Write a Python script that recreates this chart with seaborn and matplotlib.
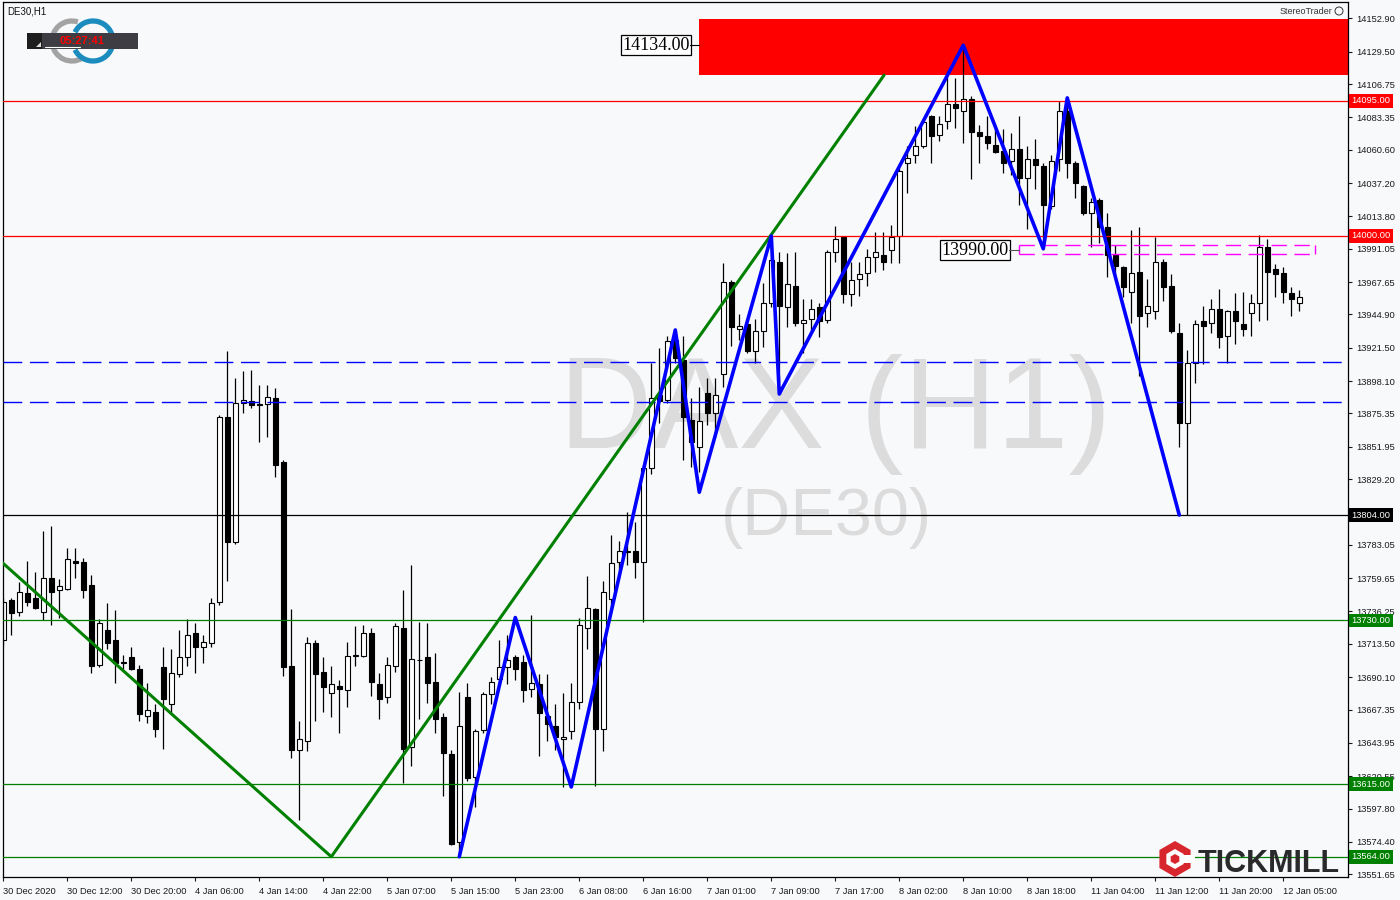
import numpy as np
import matplotlib.pyplot as plt
import seaborn as sns
from matplotlib.patches import Rectangle, Arc, RegularPolygon, Polygon, Circle

sns.set_theme(style='white')
plt.rcParams['font.family'] = ['Liberation Sans', 'DejaVu Sans']

# ---- DE30 H1 candles (O, H, L, C) ----
opens = [13716, 13744, 13736, 13749, 13746, 13736, 13760, 13751, 13752, 13772,
         13771, 13755, 13699, 13723, 13716, 13701, 13704, 13696, 13663, 13666,
         13697, 13671, 13692, 13704, 13721, 13711, 13714, 13743, 13873, 13785,
         13883, 13884, 13882, 13882, 13886, 13841, 13698, 13639, 13645, 13714,
         13694, 13679, 13684, 13681, 13705, 13705, 13721, 13685, 13676, 13698,
         13725, 13641, 13702, 13704, 13687, 13662, 13636, 13574, 13676, 13620,
         13653, 13678, 13689, 13697, 13704, 13701, 13682, 13685, 13663, 13656,
         13647, 13652, 13673, 13725, 13738, 13654, 13745, 13771, 13778, 13779,
         13771, 13837, 13888, 13885, 13927, 13913, 13871, 13852, 13890, 13876,
         13903, 13968, 13935, 13938, 13919, 13933, 13953, 13982, 13950, 13965,
         13939, 13942, 13950, 13941, 13989, 13999, 13959, 13970, 13974, 13985,
         13987, 13990, 14000, 14051, 14057, 14063, 14084, 14071, 14081, 14093,
         14088, 14096, 14073, 14070, 14064, 14060, 14053, 14061, 14041, 14054,
         14049, 14021, 14054, 14088, 14051, 14035, 14016, 14025, 14006, 13987,
         13978, 13961, 13975, 13946, 13947, 13982, 13965, 13932, 13869, 13911,
         13940, 13939, 13949, 13930, 13947, 13938, 13946, 13953, 13992, 13977,
         13974, 13960, 13953]
highs = [13746, 13746, 13757, 13772, 13764, 13793, 13796, 13759, 13781, 13781,
         13774, 13762, 13731, 13742, 13737, 13706, 13711, 13699, 13686, 13671,
         13711, 13710, 13723, 13731, 13728, 13720, 13746, 13874, 13919, 13900,
         13905, 13906, 13895, 13895, 13893, 13843, 13738, 13659, 13718, 13716,
         13704, 13698, 13688, 13715, 13726, 13727, 13725, 13693, 13704, 13728,
         13751, 13769, 13729, 13728, 13707, 13665, 13639, 13680, 13686, 13654,
         13680, 13690, 13716, 13720, 13706, 13706, 13734, 13692, 13692, 13671,
         13679, 13686, 13732, 13761, 13739, 13758, 13790, 13786, 13806, 13799,
         13839, 13911, 13921, 13930, 13932, 13930, 13886, 13894, 13900, 13900,
         13981, 13969, 13945, 13942, 13942, 13967, 14001, 13989, 13988, 13989,
         13956, 13956, 13953, 13990, 14007, 14000, 13982, 13982, 13991, 14003,
         14003, 14008, 14048, 14063, 14077, 14081, 14085, 14084, 14116, 14111,
         14134, 14098, 14078, 14084, 14077, 14075, 14072, 14084, 14063, 14068,
         14051, 14057, 14095, 14097, 14053, 14036, 14027, 14027, 14016, 13994,
         13979, 14004, 14006, 13970, 13999, 13984, 13973, 13939, 13920, 13941,
         13951, 13956, 13963, 13948, 13960, 13961, 13959, 14001, 13998, 13980,
         13978, 13964, 13962]
lows = [13713, 13720, 13733, 13740, 13738, 13730, 13727, 13732, 13751, 13760,
        13746, 13693, 13697, 13710, 13686, 13696, 13695, 13659, 13658, 13648,
        13640, 13665, 13690, 13698, 13693, 13700, 13711, 13741, 13758, 13784,
        13876, 13879, 13855, 13859, 13831, 13691, 13633, 13590, 13638, 13659,
        13666, 13662, 13651, 13669, 13698, 13704, 13677, 13661, 13672, 13694,
        13616, 13628, 13661, 13672, 13651, 13607, 13572, 13564, 13617, 13599,
        13651, 13671, 13685, 13685, 13688, 13673, 13676, 13635, 13645, 13639,
        13613, 13647, 13668, 13710, 13614, 13638, 13739, 13765, 13769, 13760,
        13729, 13833, 13869, 13883, 13911, 13843, 13838, 13834, 13867, 13859,
        13894, 13923, 13927, 13918, 13911, 13922, 13950, 13897, 13936, 13937,
        13918, 13932, 13929, 13939, 13982, 13953, 13951, 13958, 13965, 13975,
        13976, 13981, 13981, 14030, 14051, 14062, 14051, 14067, 14075, 14076,
        14065, 14040, 14051, 14061, 14058, 14044, 14043, 14022, 14005, 14033,
        13992, 14019, 14046, 14041, 14027, 14015, 13992, 13995, 13971, 13971,
        13957, 13939, 13902, 13936, 13942, 13954, 13932, 13852, 13804, 13897,
        13910, 13932, 13921, 13911, 13924, 13930, 13930, 13940, 13941, 13957,
        13953, 13944, 13947]
closes = [13743, 13735, 13750, 13743, 13739, 13760, 13750, 13754, 13773, 13770,
          13751, 13698, 13728, 13714, 13700, 13700, 13696, 13664, 13667, 13654,
          13675, 13693, 13704, 13720, 13711, 13715, 13742, 13873, 13785, 13883,
          13885, 13881, 13881, 13887, 13839, 13697, 13639, 13647, 13714, 13692,
          13683, 13685, 13682, 13705, 13706, 13721, 13687, 13675, 13699, 13726,
          13640, 13703, 13702, 13686, 13661, 13637, 13573, 13656, 13619, 13652,
          13678, 13687, 13697, 13702, 13696, 13681, 13686, 13665, 13657, 13648,
          13648, 13673, 13727, 13739, 13654, 13750, 13770, 13779, 13779, 13771,
          13837, 13886, 13884, 13926, 13914, 13873, 13855, 13870, 13876, 13888,
          13968, 13936, 13937, 13919, 13933, 13953, 13983, 13951, 13966, 13939,
          13941, 13949, 13940, 13989, 13998, 13959, 13969, 13973, 13985, 13989,
          13982, 13999, 14046, 14055, 14063, 14080, 14070, 14079, 14093, 14090,
          14096, 14073, 14070, 14065, 14059, 14051, 14061, 14041, 14054, 14050,
          14022, 14053, 14088, 14051, 14037, 14016, 14024, 14006, 13987, 13979,
          13964, 13974, 13944, 13951, 13982, 13964, 13933, 13869, 13911, 13938,
          13937, 13949, 13929, 13947, 13940, 13935, 13953, 13992, 13975, 13973,
          13961, 13956, 13957]

xtick_idx = list(range(0, 161, 8))
xtick_labels = ['30 Dec 2020', '30 Dec 12:00', '30 Dec 20:00', '4 Jan 06:00', '4 Jan 14:00',
                '4 Jan 22:00', '5 Jan 07:00', '5 Jan 15:00', '5 Jan 23:00', '6 Jan 08:00',
                '6 Jan 16:00', '7 Jan 01:00', '7 Jan 09:00', '7 Jan 17:00', '8 Jan 02:00',
                '8 Jan 10:00', '8 Jan 18:00', '11 Jan 04:00', '11 Jan 12:00', '11 Jan 20:00',
                '12 Jan 05:00']
price_ticks = [14152.90, 14129.50, 14106.75, 14083.35, 14060.60, 14037.20, 14013.80,
               13991.05, 13967.65, 13944.90, 13921.50, 13898.10, 13875.35, 13851.95,
               13829.20, 13805.80, 13783.05, 13759.65, 13736.25, 13713.50, 13690.10,
               13667.35, 13643.95, 13620.55, 13597.80, 13574.40, 13551.65]
hidden_tick = 13805.80   # sits under the 13804 tag

# horizontal levels
levels = [14095, 14000, 13804, 13730, 13615, 13564]
level_colors = ['#ff0000', '#ff0000', '#000000', '#008000', '#008000', '#008000']
blue_levels = [13911.5, 13883.5]

# trend line and zigzag
green_x = [-1, 41, 110.1]
green_y = [13775, 13564, 14113]
blue_x = [57, 64, 71, 84, 87, 96, 97, 120, 130, 133, 147]
blue_y = [13564, 13732, 13613, 13934, 13820, 14000, 13889, 14134, 13991, 14097, 13804]

# zones
zone_top = [14113, 14152.4]      # red box
zone_start = 86.96
box2 = [13987.5, 13993.5]        # magenta box
box2_x = [127, 164]

bg = '#f8f9fb'
fig = plt.figure(figsize=(14, 9), dpi=100, facecolor=bg)
ax = fig.add_axes([3 / 1400, 1 - 877 / 900, 1345 / 1400, 875 / 900])
ax.set_facecolor(bg)

o = np.array(opens); h = np.array(highs); l = np.array(lows); c = np.array(closes)
idx = np.arange(len(o))
up = c >= o

# watermark
ax.text((835 - 3) / 1345, (877 - 448) / 875, 'DAX (H1)', transform=ax.transAxes,
        ha='center', va='baseline', fontsize=93, color='#dcdcdc', zorder=0.5)
ax.text((826 - 3) / 1345, (877 - 535) / 875, '(DE30)', transform=ax.transAxes,
        ha='center', va='baseline', fontsize=48, color='#dcdcdc', zorder=0.5)

# red supply zone (behind candles)
ax.add_patch(Rectangle((zone_start, zone_top[0]), 200, zone_top[1] - zone_top[0],
                       facecolor='#ff0000', edgecolor='none', zorder=1.5))

# candles
ax.vlines(idx, l, h, color='black', linewidth=0.9, zorder=2)
ax.bar(idx, np.abs(c - o), bottom=np.minimum(o, c), width=0.58,
       color=np.where(up, 'white', 'black'), edgecolor='black', linewidth=0.8, zorder=2.1)

# levels
for p, col in zip(levels, level_colors):
    ax.axhline(p, color=col, linewidth=0.9, zorder=3)
for p in blue_levels:
    ax.axhline(p, color='#0000ff', linewidth=1.0, linestyle=(0, (13.5, 5.5)), zorder=3)

# magenta box
ax.hlines(box2, box2_x[0], box2_x[1], colors='#ff00ff', linewidth=1.0,
          linestyles=(0, (11, 5.5)), zorder=3)
ax.vlines(box2_x, box2[0], box2[1], colors='#ff00ff', linewidth=1.0, zorder=3)

# lines
sns.lineplot(x=green_x, y=green_y, sort=False, color='#008000', linewidth=2.2, ax=ax, zorder=3.5)
sns.lineplot(x=blue_x, y=blue_y, sort=False, color='#0000ff', linewidth=2.6, ax=ax, zorder=3.6)

# price labels on chart
ax.text(85.84, 14134, '14134.00', ha='right', va='center', fontsize=13,
        family='Liberation Serif', color='black', zorder=4,
        bbox=dict(boxstyle='square,pad=0.08', fc='white', ec='black', lw=0.9))
ax.plot([85.84, zone_start], [14134, 14134], color='black', lw=0.8, zorder=4)
ax.text(125.7, 13990, '13990.00', ha='right', va='center', fontsize=13,
        family='Liberation Serif', color='black', zorder=4,
        bbox=dict(boxstyle='square,pad=0.08', fc='white', ec='black', lw=0.9))
ax.plot([125.7, box2_x[0]], [13990, 13990], color='#555555', lw=0.8, zorder=4)

ax.set_xlim(-0.0375, 168.09)
ax.set_ylim(13549.76, 14164.36)

# axes styling
for s in ax.spines.values():
    s.set_color('black')
    s.set_linewidth(0.9)
ax.set_xticks(xtick_idx)
ax.set_xticklabels(xtick_labels)
for t in ax.get_xticklabels():
    t.set_ha('left')
ax.set_yticks(price_ticks)
ax.set_yticklabels(['' if v == hidden_tick else f'{v:.2f}' for v in price_ticks])
ax.yaxis.tick_right()
ax.tick_params(axis='y', direction='out', length=3, width=0.8, pad=3, labelsize=6.7,
               colors='#1a1a1a', right=True, left=False)
ax.tick_params(axis='x', direction='out', length=3, width=0.8, pad=4, labelsize=6.7,
               colors='#1a1a1a', bottom=True)
ax.grid(False)
ax.set_xlabel('')
ax.set_ylabel('')

# price tags on right scale
for p, col in zip(levels, level_colors):
    ax.text(1.0025, p, f'{p:.2f}', transform=ax.get_yaxis_transform(), ha='left', va='center',
            fontsize=6.7, color='white', zorder=6, clip_on=False,
            bbox=dict(boxstyle='square,pad=0.25', fc=col, ec='none'))

# overlay in pixel coordinates for logos
ov = fig.add_axes([0, 0, 1, 1], zorder=5)
ov.set_xlim(0, 1400)
ov.set_ylim(900, 0)
ov.axis('off')
ov.patch.set_alpha(0)

ov.text(7, 11, 'DE30,H1', fontsize=7, ha='left', va='center', color='#111111')
ov.add_patch(Arc((72, 41), 40, 40, theta1=57, theta2=287, color='#a3a3a3', lw=3.8, zorder=1))
ov.add_patch(Arc((93, 41), 40, 40, theta1=-154, theta2=154, color='#1b8cbd', lw=3.8, zorder=1))
ov.add_patch(Rectangle((27, 33), 111, 16, fc='#3d3d43', ec='none', zorder=2))
ov.add_patch(Rectangle((27, 33), 15, 16, fc='#1e1e1e', ec='none', zorder=2.1))
ov.add_patch(Polygon([(36, 47), (41, 47), (41, 42)], closed=True, fc='#dddddd', ec='none', zorder=2.2))
ov.plot([45, 80], [46.5, 46.5], color='white', lw=0.8, zorder=2.2)
ov.text(82, 41, '05:27:41', color='#ff0000', fontweight='bold', fontsize=8,
        ha='center', va='center', zorder=3)

ov.text(1332, 11, 'StereoTrader', ha='right', va='center', fontsize=6.5, color='#333333')
ov.add_patch(Circle((1339, 11), 4, fill=False, ec='#333333', lw=0.7))

ov.add_patch(RegularPolygon((1175, 859), numVertices=6, radius=18, orientation=0,
                            fc='#d7262d', ec='none'))
ov.add_patch(RegularPolygon((1175, 859), numVertices=6, radius=10, orientation=0,
                            fc='white', ec='none'))
ov.add_patch(Rectangle((1179, 855), 16, 8, fc='white', ec='none'))
ov.add_patch(RegularPolygon((1175, 859), numVertices=6, radius=5, orientation=0,
                            fc='#d7262d', ec='none'))
ov.text(1198, 872, 'TICKMILL', ha='left', va='baseline', fontsize=22, fontweight='bold',
        color='#2a2a2a')

fig.savefig('out.png', dpi=100, facecolor=bg)
